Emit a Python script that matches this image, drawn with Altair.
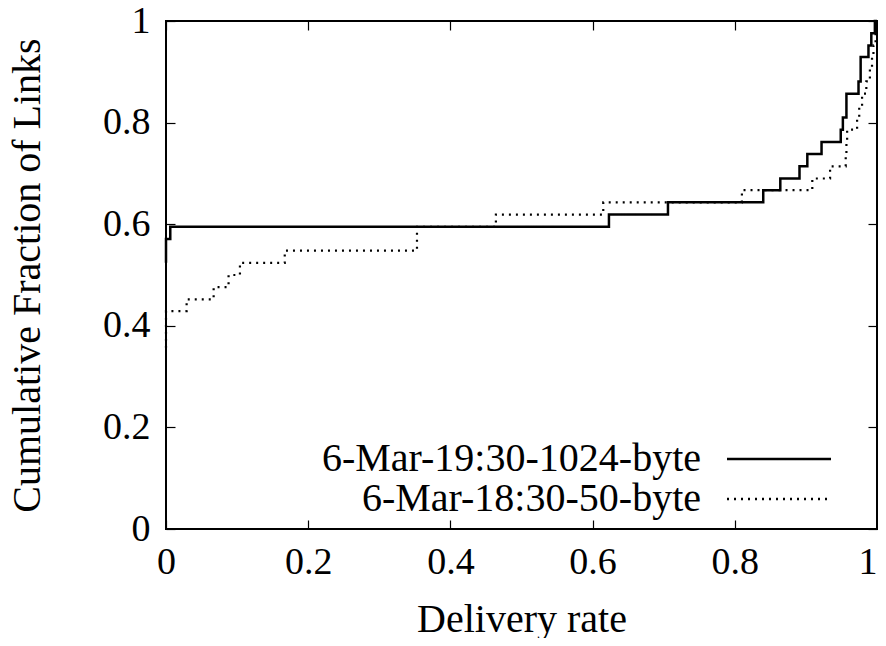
import altair as alt
import pandas as pd

series_names = ["6-Mar-19:30-1024-byte", "6-Mar-18:30-50-byte"]

solid_x = [0.0, 0.0, 0.006, 0.623, 0.706, 0.840, 0.864, 0.891, 0.902, 0.922,
           0.949, 0.952, 0.957, 0.974, 0.977, 0.988, 0.992, 0.997, 1.0]
solid_y = [0.524, 0.571, 0.595, 0.619, 0.643, 0.667, 0.690, 0.714, 0.738, 0.762,
           0.786, 0.810, 0.857, 0.881, 0.929, 0.952, 0.976, 1.0, 1.0]

dotted_x = [0.0, 0.0, 0.029, 0.067, 0.088, 0.104, 0.167, 0.353, 0.464, 0.615,
            0.810, 0.909, 0.934, 0.956, 0.957, 0.958, 0.972, 0.975, 0.979,
            0.985, 0.990, 0.993, 0.995, 0.998, 1.0]
dotted_y = [0.357, 0.429, 0.452, 0.476, 0.500, 0.524, 0.548, 0.595, 0.619, 0.643,
            0.667, 0.690, 0.714, 0.738, 0.762, 0.786, 0.810, 0.833, 0.857,
            0.881, 0.905, 0.929, 0.952, 0.976, 1.0]

x_ticks = [0, 0.2, 0.4, 0.6, 0.8, 1]
y_ticks = [0, 0.2, 0.4, 0.6, 0.8, 1]

rows = []
for i, (x, y) in enumerate(zip(solid_x, solid_y)):
    rows.append({"rate": x, "frac": y, "series": series_names[0], "order": i})
for i, (x, y) in enumerate(zip(dotted_x, dotted_y)):
    rows.append({"rate": x, "frac": y, "series": series_names[1], "order": i})
df = pd.DataFrame(rows)

FONT = "Liberation Serif"
TICK = 9

# legend sample: a horizontal stroke, ~104 px long at symbolSize 784 (r = 14)
legend = alt.Legend(
    orient="none", legendX=593, legendY=418, title=None,
    symbolType="M-3.714,0H3.714", symbolSize=784, symbolStrokeWidth=2.5,
    symbolStrokeColor="black", symbolFillColor="transparent",
    labelFont=FONT, labelFontSize=40,
    labelColor="black", labelAlign="right", labelOffset={"expr": "-98"},
    rowPadding=0, labelLimit=600,
)
dash = alt.StrokeDash(
    "series:N",
    scale=alt.Scale(domain=series_names, range=[[1, 0], [2, 5]]),
    legend=legend,
)

base = alt.Chart(df)

l1 = base.transform_filter(alt.datum.series == series_names[0]).mark_line(
    interpolate="step-after", color="black", strokeWidth=2.5
).encode(
    x=alt.X("rate:Q", scale=alt.Scale(domain=[0, 1], nice=False),
            axis=alt.Axis(orient="bottom", values=x_ticks, format="~g",
                          offset=-TICK, tickSize=TICK, domain=False, grid=False,
                          labelFlush=False, labelPadding=14,
                          labelAlign={"condition": {"test": "datum.value >= 1", "value": "right"},
                                      "value": "center"},
                          title="Delivery rate", titlePadding=18)),
    y=alt.Y("frac:Q", scale=alt.Scale(domain=[0, 1], nice=False),
            axis=alt.Axis(orient="left", values=y_ticks, format="~g",
                          offset=-TICK, tickSize=TICK, domain=False, grid=False,
                          labelFlush=False, labelPadding=16,
                          title="Cumulative Fraction of Links", titlePadding=55)),
    order="order:Q",
    strokeDash=dash,
)

l2 = base.transform_filter(alt.datum.series == series_names[1]).mark_line(
    interpolate="step-after", color="black", strokeWidth=2.2
).encode(
    x=alt.X("rate:Q", scale=alt.Scale(domain=[0, 1], nice=False),
            axis=alt.Axis(orient="top", values=x_ticks, offset=-TICK,
                          tickSize=TICK, domain=False, grid=False,
                          labels=False, title=None)),
    y=alt.Y("frac:Q", scale=alt.Scale(domain=[0, 1], nice=False),
            axis=alt.Axis(orient="right", values=y_ticks, offset=-TICK,
                          tickSize=TICK, domain=False, grid=False,
                          labels=False, title=None)),
    order="order:Q",
    strokeDash=dash,
)

chart = alt.layer(l1, l2).resolve_scale(
    x="independent", y="independent"
).properties(
    width=711, height=508,
    autosize=alt.AutoSizeParams(type="none"),
    padding={"left": 158, "top": 13, "right": 1, "bottom": 109},
    background="white",
).configure_view(
    stroke="black", strokeWidth=2
).configure_axis(
    labelFont=FONT, labelFontSize=38, labelColor="black",
    titleFont=FONT, titleFontSize=40, titleFontWeight="normal",
    titleColor="black", tickColor="black", tickWidth=1.2,
)

chart.save("out.html", embed_options={"renderer": "svg", "actions": False})
